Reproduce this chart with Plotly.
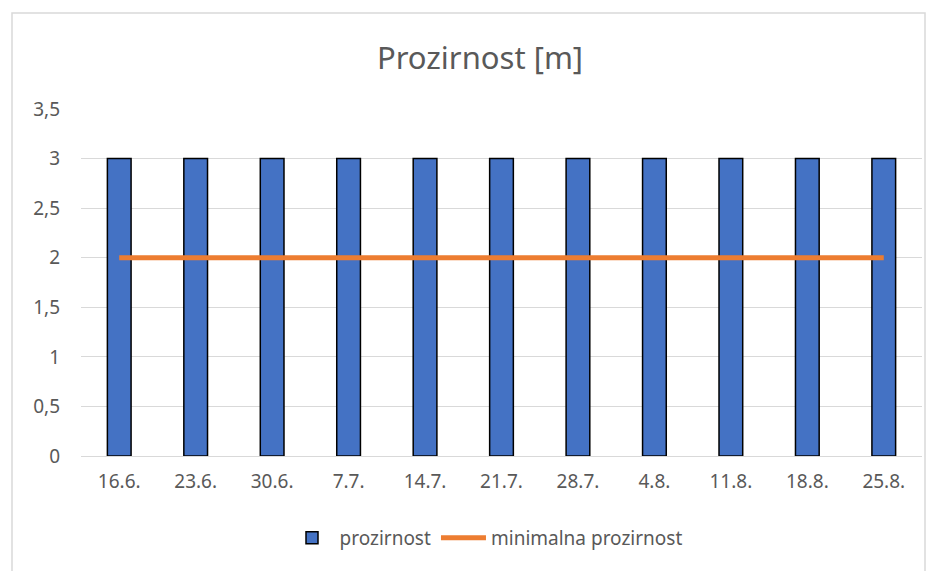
import plotly.graph_objects as go

categories = ["16.6.", "23.6.", "30.6.", "7.7.", "14.7.", "21.7.", "28.7.", "4.8.", "11.8.", "18.8.", "25.8."]
prozirnost = [3, 3, 3, 3, 3, 3, 3, 3, 3, 3, 3]
minimalna = [2, 2, 2, 2, 2, 2, 2, 2, 2, 2, 2]
y_ticks = [0, 0.5, 1, 1.5, 2, 2.5, 3, 3.5]

W, H = 937, 571
OFF = 8  # page body margin offset
L, T = 81 - OFF, 109 - OFF
R = W - (922 - OFF)
B = H - (456 - OFF)
pw = W - L - R
ph = H - T - B

fig = go.Figure()
fig.add_trace(go.Bar(
    x=categories, y=prozirnost, name="prozirnost",
    marker=dict(color="#4472C4", line=dict(color="#000000", width=1.5)),
    width=0.31,
))
fig.add_trace(go.Scatter(
    x=categories, y=minimalna, name="minimalna prozirnost", mode="lines",
    line=dict(color="#ED7D31", width=5),
))

def px_x(p):
    return (p - OFF - L) / pw

def px_y(p):
    return (H - B - (p - OFF)) / ph

fig.add_shape(type="rect", xref="paper", yref="paper",
              x0=px_x(12), x1=px_x(925), y0=px_y(590), y1=px_y(13),
              line=dict(color="#D9D9D9", width=1.5), fillcolor="rgba(0,0,0,0)", layer="below")

fig.update_layout(
    width=W, height=H,
    margin=dict(l=L, r=R, t=T, b=B),
    paper_bgcolor="white", plot_bgcolor="white",
    separators=",.",
    font=dict(family="Noto Sans", color="#595959", size=19),
    title=dict(text="Prozirnost [m]", x=px_x(480), xref="paper", xanchor="center",
               y=1 - (58 - OFF) / H, yanchor="middle", font=dict(size=31, color="#595959")),
    showlegend=True,
    legend=dict(orientation="h", x=px_x(486), xanchor="center", y=px_y(538), yanchor="middle",
                font=dict(size=19, color="#595959"), traceorder="normal", itemwidth=45),
    xaxis=dict(type="category", showgrid=False, showline=False, ticks="",
               tickfont=dict(size=19, color="#595959"), ticklabelstandoff=12),
    yaxis=dict(range=[0, 3.5], tickvals=y_ticks, showgrid=True, gridcolor="#D9D9D9", gridwidth=1.3,
               zeroline=True, zerolinecolor="#D9D9D9", zerolinewidth=1.3, showline=False, ticks="",
               tickformat=",.1~f", tickfont=dict(size=19, color="#595959"), ticklabelstandoff=20),
)

fig.write_html("out.html")
